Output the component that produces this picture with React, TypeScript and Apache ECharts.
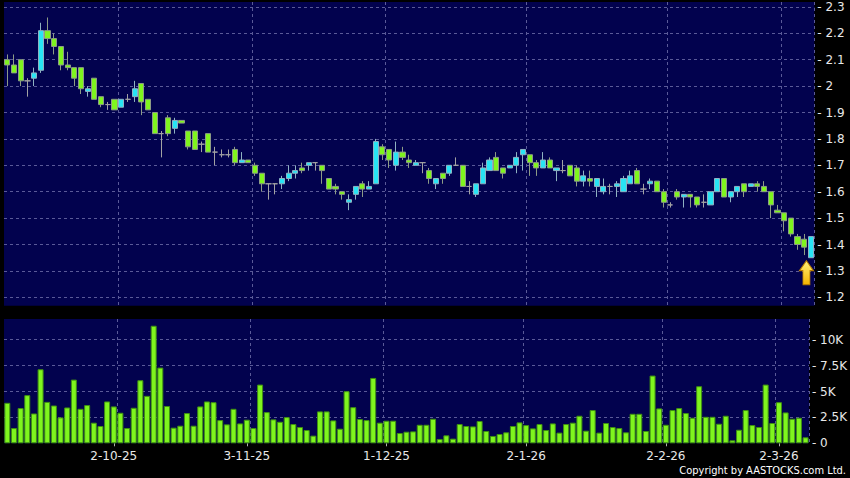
import React, { useEffect, useRef } from 'react';
import * as echarts from 'echarts';

const DATES = [
  '8-9-25', '9-9-25', '10-9-25', '11-9-25', '12-9-25', '15-9-25', '16-9-25', '17-9-25', '18-9-25', '19-9-25',
  '22-9-25', '23-9-25', '24-9-25', '25-9-25', '26-9-25', '29-9-25', '30-9-25',
  '2-10-25', '3-10-25', '6-10-25', '8-10-25', '9-10-25', '10-10-25', '13-10-25', '14-10-25', '15-10-25', '16-10-25',
  '17-10-25', '20-10-25', '21-10-25', '22-10-25', '23-10-25', '24-10-25', '27-10-25', '28-10-25', '30-10-25', '31-10-25',
  '3-11-25', '4-11-25', '5-11-25', '6-11-25', '7-11-25', '10-11-25', '11-11-25', '12-11-25', '13-11-25', '14-11-25',
  '17-11-25', '18-11-25', '19-11-25', '20-11-25', '21-11-25', '24-11-25', '25-11-25', '26-11-25', '27-11-25', '28-11-25',
  '1-12-25', '2-12-25', '3-12-25', '4-12-25', '5-12-25', '8-12-25', '9-12-25', '10-12-25', '11-12-25', '12-12-25',
  '15-12-25', '16-12-25', '17-12-25', '18-12-25', '19-12-25', '22-12-25', '23-12-25', '24-12-25', '29-12-25', '30-12-25', '31-12-25',
  '2-1-26', '5-1-26', '6-1-26', '7-1-26', '8-1-26', '9-1-26', '12-1-26', '13-1-26', '14-1-26', '15-1-26',
  '16-1-26', '19-1-26', '20-1-26', '21-1-26', '22-1-26', '23-1-26', '26-1-26', '27-1-26', '28-1-26', '29-1-26', '30-1-26',
  '2-2-26', '3-2-26', '4-2-26', '5-2-26', '6-2-26', '9-2-26', '10-2-26', '11-2-26', '12-2-26', '13-2-26',
  '16-2-26', '20-2-26', '23-2-26', '24-2-26', '25-2-26', '26-2-26', '27-2-26',
  '2-3-26', '3-3-26', '4-3-26', '5-3-26', '6-3-26',
];

const OPEN = [
  2.10, 2.08, 2.10, 2.02, 2.03, 2.06, 2.21, 2.18, 2.15, 2.08,
  2.07, 2.07, 1.98, 2.03, 1.96, 1.93, 1.95, 1.92, 1.95, 1.96,
  2.01, 1.95, 1.90, 1.82, 1.88, 1.84, 1.87, 1.83, 1.83, 1.78,
  1.82, 1.75, 1.74, 1.74, 1.76, 1.71, 1.72, 1.70, 1.67, 1.63,
  1.63, 1.63, 1.65, 1.67, 1.69, 1.70, 1.71, 1.70, 1.65, 1.62,
  1.60, 1.56, 1.59, 1.63, 1.61, 1.63, 1.77, 1.76, 1.70, 1.75,
  1.72, 1.70, 1.71, 1.68, 1.63, 1.67, 1.67, 1.70, 1.70, 1.62,
  1.59, 1.63, 1.68, 1.73, 1.69, 1.69, 1.70, 1.74, 1.74, 1.71,
  1.69, 1.72, 1.68, 1.68, 1.70, 1.69, 1.64, 1.65, 1.62, 1.60,
  1.62, 1.62, 1.60, 1.63, 1.68, 1.61, 1.63, 1.64, 1.60, 1.55,
  1.60, 1.58, 1.59, 1.58, 1.56, 1.55, 1.60, 1.65, 1.58, 1.60,
  1.63, 1.62, 1.63, 1.62, 1.60, 1.53, 1.52, 1.50, 1.43, 1.42,
  1.35,
];

const CLOSE = [
  2.08, 2.05, 2.02, 2.02, 2.05, 2.21, 2.18, 2.15, 2.08, 2.07,
  2.03, 1.99, 1.99, 1.95, 1.93, 1.93, 1.91, 1.95, 1.95, 1.99,
  1.94, 1.91, 1.82, 1.82, 1.82, 1.87, 1.86, 1.77, 1.76, 1.78,
  1.75, 1.75, 1.74, 1.74, 1.71, 1.72, 1.71, 1.67, 1.63, 1.63,
  1.63, 1.65, 1.67, 1.68, 1.68, 1.71, 1.71, 1.68, 1.61, 1.61,
  1.59, 1.57, 1.62, 1.61, 1.62, 1.79, 1.74, 1.72, 1.75, 1.73,
  1.71, 1.71, 1.71, 1.65, 1.65, 1.65, 1.70, 1.70, 1.62, 1.62,
  1.63, 1.69, 1.72, 1.68, 1.67, 1.70, 1.73, 1.76, 1.71, 1.69,
  1.72, 1.69, 1.69, 1.68, 1.66, 1.64, 1.66, 1.64, 1.65, 1.62,
  1.62, 1.63, 1.65, 1.66, 1.63, 1.61, 1.64, 1.60, 1.56, 1.55,
  1.58, 1.59, 1.58, 1.55, 1.56, 1.60, 1.65, 1.58, 1.60, 1.62,
  1.60, 1.63, 1.62, 1.60, 1.55, 1.52, 1.49, 1.44, 1.40, 1.39,
  1.43,
];

const HIGH = [
  2.12, 2.12, 2.10, 2.03, 2.07, 2.24, 2.26, 2.20, 2.15, 2.13,
  2.07, 2.07, 2.00, 2.03, 1.96, 1.94, 1.95, 1.95, 1.97, 2.02,
  2.01, 1.95, 1.90, 1.83, 1.89, 1.88, 1.87, 1.83, 1.83, 1.79,
  1.82, 1.77, 1.76, 1.76, 1.77, 1.75, 1.72, 1.71, 1.67, 1.63,
  1.63, 1.66, 1.70, 1.70, 1.71, 1.71, 1.71, 1.70, 1.65, 1.63,
  1.60, 1.59, 1.62, 1.64, 1.64, 1.80, 1.78, 1.76, 1.79, 1.77,
  1.74, 1.72, 1.71, 1.69, 1.65, 1.67, 1.70, 1.73, 1.70, 1.64,
  1.63, 1.71, 1.73, 1.75, 1.69, 1.70, 1.75, 1.76, 1.74, 1.72,
  1.75, 1.73, 1.69, 1.72, 1.70, 1.70, 1.68, 1.68, 1.65, 1.65,
  1.63, 1.64, 1.66, 1.68, 1.69, 1.63, 1.65, 1.64, 1.61, 1.56,
  1.61, 1.59, 1.59, 1.58, 1.59, 1.60, 1.65, 1.65, 1.60, 1.62,
  1.63, 1.63, 1.64, 1.64, 1.60, 1.55, 1.52, 1.50, 1.44, 1.44,
  1.43,
];

const LOW = [
  2.00, 2.05, 2.00, 1.96, 2.00, 2.05, 2.16, 2.12, 2.06, 2.06,
  2.00, 1.97, 1.96, 1.95, 1.92, 1.91, 1.91, 1.92, 1.94, 1.94,
  1.89, 1.91, 1.82, 1.73, 1.81, 1.82, 1.86, 1.76, 1.76, 1.75,
  1.75, 1.70, 1.73, 1.73, 1.70, 1.71, 1.71, 1.66, 1.60, 1.57,
  1.59, 1.61, 1.64, 1.65, 1.67, 1.68, 1.68, 1.63, 1.61, 1.59,
  1.57, 1.53, 1.57, 1.58, 1.61, 1.63, 1.72, 1.69, 1.68, 1.72,
  1.69, 1.70, 1.67, 1.63, 1.61, 1.63, 1.66, 1.70, 1.62, 1.59,
  1.58, 1.63, 1.68, 1.68, 1.65, 1.69, 1.67, 1.68, 1.66, 1.66,
  1.69, 1.69, 1.64, 1.67, 1.66, 1.62, 1.62, 1.62, 1.58, 1.59,
  1.59, 1.58, 1.60, 1.63, 1.63, 1.59, 1.61, 1.60, 1.54, 1.54,
  1.57, 1.54, 1.54, 1.54, 1.54, 1.55, 1.60, 1.58, 1.56, 1.58,
  1.58, 1.62, 1.60, 1.60, 1.50, 1.52, 1.45, 1.43, 1.38, 1.36,
  1.35,
];

const VOLUME = [
  3910, 1470, 3400, 4650, 2880, 7150, 4000, 3650, 2500, 3460,
  6150, 3330, 3690, 1990, 1670, 4040, 3560, 2950, 1470, 3430,
  6090, 4580, 11350, 7310, 3600, 1510, 1700, 2920, 1700, 3560,
  4040, 3970, 2240, 1830, 3330, 1920, 2280, 1470, 5670, 3010,
  2310, 2080, 2530, 1860, 1570, 1280, 740, 3080, 3080, 2210,
  1410, 5030, 3490, 2340, 2240, 6310, 1990, 2180, 2180, 990,
  1120, 1150, 1790, 1790, 2370, 420, 770, 450, 1860, 1670,
  1630, 2150, 1190, 710, 900, 1060, 1670, 2020, 1760, 1440,
  1860, 1280, 1920, 1030, 1860, 1990, 2660, 1220, 3210, 1030,
  1960, 1570, 1470, 1060, 2850, 2850, 1190, 6540, 3370, 1790,
  3210, 3400, 2920, 2470, 5510, 2560, 2560, 1890, 2660, 290,
  1310, 3210, 1760, 1570, 5670, 1960, 3970, 2980, 2370, 2470,
  580,
];

const X_LABEL_INDEX = [16, 36, 57, 78, 99, 116];
const X_LABELS = ['2-10-25', '3-11-25', '1-12-25', '2-1-26', '2-2-26', '2-3-26'];
const X_GRID_INDEX = [17, 37, 57, 78, 99, 116];

const PRICE_MIN = 1.1682;
const PRICE_MAX = 2.3186;
const PRICE_STEP = 0.1;
const VOL_MAX = 12000;
const VOL_STEP = 2500;
const COPYRIGHT = 'Copyright by AASTOCKS.com Ltd.';

const NAVY = '#02024e';
const GRID_LINE = '#5a5a98';
const TEXT = '#e8e8e8';
const GREEN = '#7ff51e';
const CYAN = '#28e4f4';
const FONT = 'DejaVu Sans';

export default function App() {
  const ref = useRef<HTMLDivElement>(null);

  useEffect(() => {
    if (!ref.current) return;
    const chart = echarts.init(ref.current, null, { renderer: 'svg' });
    const gridLine = {
      show: true,
      interval: (i: number) => X_GRID_INDEX.includes(i),
      lineStyle: { color: GRID_LINE, type: [3, 3], width: 1 },
    };
    const hSplit = {
      show: true,
      showMinLine: false,
      showMaxLine: false,
      lineStyle: { color: GRID_LINE, type: [3, 3], width: 1 },
    };
    const lastIdx = DATES.length - 1;
    const option: any = {
      animation: false,
      backgroundColor: '#000',
      grid: [
        { left: 4, right: 35.7, top: 2, height: 303.7, show: true, backgroundColor: NAVY, borderWidth: 0 },
        { left: 4, right: 35.7, top: 319, height: 124.3, show: true, backgroundColor: NAVY, borderWidth: 0 },
      ],
      xAxis: [
        {
          type: 'category',
          gridIndex: 0,
          data: DATES,
          boundaryGap: true,
          axisLine: { show: false },
          axisTick: { show: false },
          axisLabel: { show: false },
          splitLine: gridLine,
        },
        {
          type: 'category',
          gridIndex: 1,
          data: DATES,
          boundaryGap: true,
          offset: 3,
          axisLine: { show: false },
          axisTick: {
            show: true,
            alignWithLabel: true,
            interval: (i: number) => X_LABEL_INDEX.includes(i),
            length: 3,
            lineStyle: { color: '#b0b0b0' },
          },
          axisLabel: {
            interval: (i: number) => X_LABEL_INDEX.includes(i),
            formatter: (_v: string, i: number) => X_LABELS[X_LABEL_INDEX.indexOf(i)] ?? '',
            color: TEXT,
            fontFamily: FONT,
            fontSize: 12,
            margin: 4,
          },
          splitLine: gridLine,
        },
      ],
      yAxis: [
        {
          type: 'value',
          gridIndex: 0,
          position: 'right',
          min: PRICE_MIN,
          max: PRICE_MAX,
          minInterval: PRICE_STEP,
          maxInterval: PRICE_STEP,
          axisLine: { show: false },
          axisTick: { show: false },
          axisLabel: {
            showMinLabel: false,
            showMaxLabel: false,
            formatter: (v: number) => '- ' + String(Math.round(v * 100) / 100),
            color: TEXT,
            fontFamily: FONT,
            fontSize: 12,
            margin: 3,
          },
          splitLine: hSplit,
        },
        {
          type: 'value',
          gridIndex: 1,
          position: 'right',
          min: 0,
          max: VOL_MAX,
          interval: VOL_STEP,
          axisLine: { show: false },
          axisTick: { show: false },
          axisLabel: {
            showMaxLabel: false,
            formatter: (v: number) => (v === 0 ? '- 0' : '- ' + v / 1000 + 'K'),
            color: TEXT,
            fontFamily: FONT,
            fontSize: 12,
            margin: 3,
          },
          splitLine: hSplit,
        },
      ],
      series: [
        {
          type: 'candlestick',
          xAxisIndex: 0,
          yAxisIndex: 0,
          barWidth: '84%',
          data: OPEN.map((o, i) => [o, CLOSE[i], LOW[i], HIGH[i]]),
          itemStyle: {
            color: CYAN,
            color0: GREEN,
            borderColor: '#8fb2c2',
            borderColor0: '#8d9c86',
            borderColorDoji: '#a3a3a3',
            borderWidth: 1,
          },
          markPoint: {
            silent: true,
            symbol: 'path://M7,0 L14,10 L10.5,10 L10.5,24 L3.5,24 L3.5,10 L0,10 Z',
            symbolSize: [14, 24],
            symbolOffset: [-4.5, 15],
            label: { show: false },
            itemStyle: {
              color: new echarts.graphic.LinearGradient(0, 0, 0, 1, [
                { offset: 0, color: '#fff27a' },
                { offset: 1, color: '#f5b400' },
              ]),
              borderColor: '#b87d00',
              borderWidth: 1,
            },
            data: [{ coord: [DATES[lastIdx], LOW[lastIdx]] }],
          },
        },
        {
          type: 'bar',
          xAxisIndex: 1,
          yAxisIndex: 1,
          barWidth: '90%',
          data: VOLUME,
          itemStyle: { color: GREEN, borderColor: '#3f9012', borderWidth: 1 },
        },
      ],
      graphic: [
        {
          type: 'text',
          right: 4,
          bottom: 2,
          style: {
            text: COPYRIGHT,
            fill: '#ffffff',
            fontSize: 11,
            fontFamily: '"DejaVu Sans Condensed", "DejaVu Sans"',
          },
        },
      ],
    };
    chart.setOption(option);
    return () => chart.dispose();
  }, []);

  return (
    <div
      ref={ref}
      style={{ position: 'fixed', left: 0, top: 0, width: 850, height: 478, background: '#000' }}
    />
  );
}
